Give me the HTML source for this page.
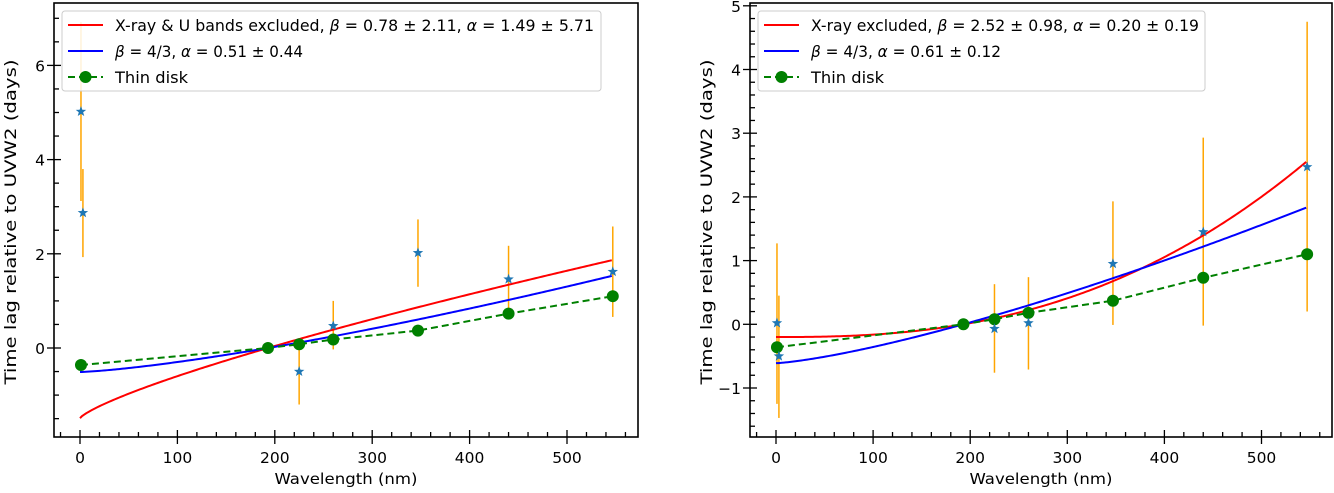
<!DOCTYPE html>
<html><head><meta charset="utf-8"><style>
html,body{margin:0;padding:0;background:#fff;}
svg text{font-family:"DejaVu Sans","Liberation Sans",sans-serif;fill:#000;}
</style></head><body>
<svg id="fig" width="1334" height="488" viewBox="0 0 1334 488" xmlns="http://www.w3.org/2000/svg"></svg>
<script>
// Shared data
const wavelengths = [1, 3, 225, 260, 347, 440, 547];
const diskWave = [1, 193, 225, 260, 347, 440, 547];
const diskLag = [-0.36, 0, 0.08, 0.18, 0.37, 0.73, 1.1];
// Left panel data
const leftLag = [5.02, 2.87, -0.5, 0.47, 2.02, 1.46, 1.62];
const leftErrLo = [1.9, 0.94, 0.7, 0.5, 0.72, 0.71, 0.96];
const leftErrHi = [1.9, 0.93, 0.7, 0.53, 0.71, 0.71, 0.96];
const leftRedParams = [1.49, 0.78];   // alpha, beta
const leftBlueParams = [0.51, 4/3];
const leftYTicks = [0, 2, 4, 6];
// Right panel data
const rightLag = [0.02, -0.5, -0.07, 0.02, 0.95, 1.45, 2.47];
const rightErrLo = [1.27, 0.97, 0.69, 0.73, 0.96, 1.47, 2.27];
const rightErrHi = [1.25, 0.95, 0.7, 0.72, 0.98, 1.48, 2.28];
const rightRedParams = [0.20, 2.52];
const rightBlueParams = [0.61, 4/3];
const rightYTicks = [-1, 0, 1, 2, 3, 4, 5];
const xTicks = [0, 100, 200, 300, 400, 500];
const refWave = 193;

const NS = "http://www.w3.org/2000/svg";
const svg = document.getElementById('fig');
function mk(tag, attrs, parent) {
  const e = document.createElementNS(NS, tag);
  for (const k in attrs) e.setAttribute(k, attrs[k]);
  (parent || svg).appendChild(e);
  return e;
}

function panel(cfg) {
  const g = mk('g', {});
  
  
  const L = cfg.left, R = cfg.right, T = 3, B = 437;
  const xs = v => cfg.x0 + v * cfg.kx;
  const ys = v => cfg.y0 - v * cfg.ky;
  const cid = cfg.name + '-clip';
  const defs = mk('defs', {}, g);
  const cp = mk('clipPath', {id: cid}, defs);
  mk('rect', {x: L, y: T, width: R - L, height: B - T}, cp);
  const plot = mk('g', {'clip-path': 'url(#' + cid + ')'}, g);
  wavelengths.forEach((w, i) => {
    const e = mk('line', {x1: xs(w), x2: xs(w), y1: ys(cfg.lag[i] - cfg.lo[i]), y2: ys(cfg.lag[i] + cfg.hi[i]), stroke: '#ffa500', 'stroke-width': 1.5}, plot);
    
    
  });
  function curve(params, color, nm) {
    let d = '';
    for (let w = 0; w <= 547; w += 2) {
      const v = params[0] * (Math.pow(w / refWave, params[1]) - 1);
      d += (w === 0 ? 'M' : 'L') + xs(w).toFixed(2) + ',' + ys(v).toFixed(2);
    }
    const p = mk('path', {d: d, fill: 'none', stroke: color, 'stroke-width': 2}, plot);
    
    
  }
  curve(cfg.red, '#ff0000', 'red-fit-curve');
  curve(cfg.blue, '#0000ff', 'blue-fit-curve');
  const dd = diskWave.map((w, i) => (i ? 'L' : 'M') + xs(w) + ',' + ys(diskLag[i])).join('');
  const dl = mk('path', {d: dd, fill: 'none', stroke: '#008000', 'stroke-width': 2, 'stroke-dasharray': '7,4'}, plot);
  
  
  diskWave.forEach((w, i) => {
    const c = mk('circle', {cx: xs(w), cy: ys(diskLag[i]), r: 6, fill: '#008000'}, plot);
    
    
  });
  wavelengths.forEach((w, i) => {
    const cx = xs(w), cy = ys(cfg.lag[i]);
    let pts = [];
    for (let k = 0; k < 10; k++) {
      const r = k % 2 ? 2.3 : 5.5, a = -Math.PI / 2 + k * Math.PI / 5;
      pts.push((cx + r * Math.cos(a)).toFixed(2) + ',' + (cy + r * Math.sin(a)).toFixed(2));
    }
    const s = mk('polygon', {points: pts.join(' '), fill: '#1f77b4'}, plot);
    
    
  });
  const fr = mk('rect', {x: L, y: T, width: R - L, height: B - T, fill: 'none', stroke: '#000', 'stroke-width': 1.6}, g);
  
  
  for (let v = -20; v <= 560; v += 20) {
    const x = xs(v);
    if (x < L || x > R) continue;
    const major = v % 100 === 0;
    mk('line', {x1: x, x2: x, y1: major ? B + 7 : B, y2: major ? B - 7 : B - 5, stroke: '#000', 'stroke-width': 1.3}, g);
  }
  xTicks.forEach(v => {
    const t = mk('text', {x: xs(v), y: 463, 'font-size': 15.5, 'text-anchor': 'middle'}, g);
    t.textContent = v;
    
    
  });
  for (let v = -3; v <= 8; v += cfg.minor) {
    const vv = Math.round(v * 100) / 100;
    const y = ys(vv);
    if (y < T || y > B) continue;
    const major = Math.abs(vv - Math.round(vv / cfg.majorStep) * cfg.majorStep) < 1e-6;
    mk('line', {x1: major ? L - 7 : L, x2: major ? L + 7 : L + 5, y1: y, y2: y, stroke: '#000', 'stroke-width': 1.3}, g);
  }
  cfg.yticks.forEach(v => {
    const t = mk('text', {x: L - 9, y: ys(v) + 6, 'font-size': 15.5, 'text-anchor': 'end'}, g);
    t.textContent = v < 0 ? '\u2212' + Math.abs(v) : v;
    
    
  });
  const xt = mk('text', {x: (L + R) / 2, y: 484, 'font-size': 15.5, 'text-anchor': 'middle', textLength: 143, lengthAdjust: 'spacingAndGlyphs'}, g);
  xt.textContent = 'Wavelength (nm)';
  
  
  const yt = mk('text', {x: 0, y: 0, 'font-size': 16, 'text-anchor': 'middle', textLength: 325, lengthAdjust: 'spacingAndGlyphs', transform: 'translate(' + cfg.ytx + ',222) rotate(-90)'}, g);
  yt.textContent = 'Time lag relative to UVW2 (days)';
  
  
  const lg = mk('g', {}, g);
  
  
  mk('rect', {x: cfg.lx, y: 11, width: cfg.lw, height: 80, rx: 3, fill: '#fff', 'fill-opacity': 0.85, stroke: '#ccc', 'stroke-width': 1}, lg);
  const rows = [['#ff0000', cfg.l1, cfg.w1], ['#0000ff', cfg.l2, cfg.w2], ['#008000', 'Thin disk', 73]];
  rows.forEach((r, i) => {
    const y = 25 + i * 26;
    const ln = mk('line', {x1: cfg.lx + 6, x2: cfg.lx + 41, y1: y, y2: y, stroke: r[0], 'stroke-width': 2, 'stroke-dasharray': i === 2 ? '7,4' : 'none'}, lg);
    
    
    if (i === 2) mk('circle', {cx: cfg.lx + 23.5, cy: y, r: 6, fill: '#008000'}, lg);
    const t = mk('text', {x: cfg.lx + 53, y: y + 6, 'font-size': 16, textLength: r[2], lengthAdjust: 'spacingAndGlyphs'}, lg);
    t.innerHTML = r[1];
    
    
  });
}

panel({name: 'left-panel', left: 54, right: 638, x0: 80, kx: 0.974, y0: 348, ky: 47.1,
  lag: leftLag, lo: leftErrLo, hi: leftErrHi, red: leftRedParams, blue: leftBlueParams,
  yticks: leftYTicks, minor: 0.5, majorStep: 2, ytx: 16, lx: 62, lw: 539, w1: 479, w2: 188,
  l1: 'X-ray &amp; U bands excluded, <tspan font-style="italic">β</tspan> = 0.78 ± 2.11, <tspan font-style="italic">α</tspan> = 1.49 ± 5.71',
  l2: '<tspan font-style="italic">β</tspan> = 4/3, <tspan font-style="italic">α</tspan> = 0.51 ± 0.44'});
panel({name: 'right-panel', left: 750, right: 1332, x0: 776, kx: 0.971, y0: 324.3, ky: 63.7,
  lag: rightLag, lo: rightErrLo, hi: rightErrHi, red: rightRedParams, blue: rightBlueParams,
  yticks: rightYTicks, minor: 0.2, majorStep: 1, ytx: 712, lx: 758, lw: 447, w1: 388, w2: 190,
  l1: 'X-ray excluded, <tspan font-style="italic">β</tspan> = 2.52 ± 0.98, <tspan font-style="italic">α</tspan> = 0.20 ± 0.19',
  l2: '<tspan font-style="italic">β</tspan> = 4/3, <tspan font-style="italic">α</tspan> = 0.61 ± 0.12'});
</script>
</body></html>
